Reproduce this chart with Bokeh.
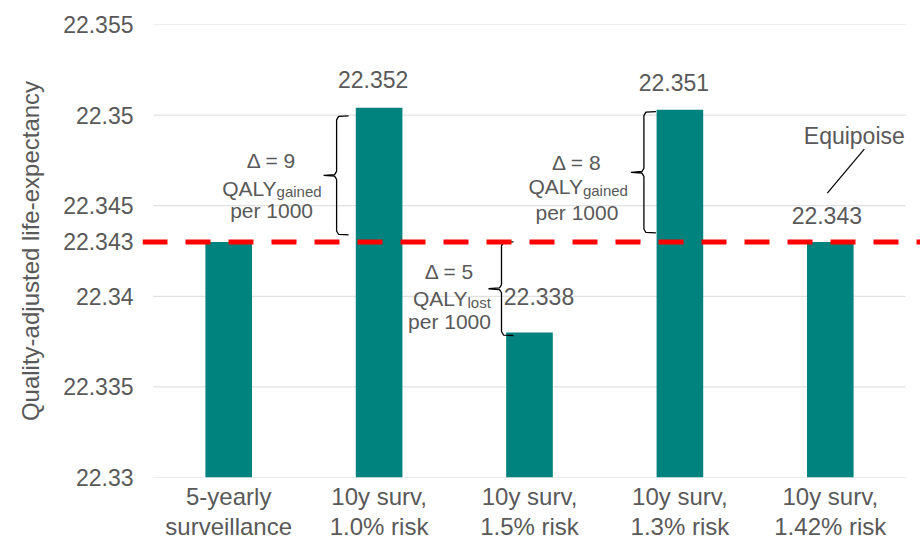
from bokeh.plotting import figure
from bokeh.models import Range1d, FixedTicker, Span
from bokeh.embed import file_html
from bokeh.resources import INLINE
from bokeh.core.properties import value

# ---------------- data ----------------
categories = ["5-yearly\nsurveillance", "10y surv,\n1.0% risk", "10y surv,\n1.5% risk",
              "10y surv,\n1.3% risk", "10y surv,\n1.42% risk"]
qaly = [22.343, 22.3504, 22.338, 22.3503, 22.343]
bar_labels = ["", "22.352", "22.338", "22.351", "22.343"]
equipoise = 22.343
y_ticks = [22.33, 22.335, 22.34, 22.343, 22.345, 22.35, 22.355]
y_tick_labels = ["22.33", "22.335", "22.34", "22.343", "22.345", "22.35", "22.355"]
delta_texts = ["\u0394 = 9", "\u0394 = 5", "\u0394 = 8"]
delta_subs = ["gained", "lost", "gained"]
delta_bars = [1, 2, 3]
y_title = "Quality-adjusted life-expectancy"
equipoise_text = "Equipoise"

# ---------------- layout ----------------
W, H = 920, 542
FL, FT, FB = 142, 24, 64          # frame left / top / bottom border in px
CAT_PX = 150.4                    # px per category
CAT_LEFT = 153                    # px where category 0 starts
frame_w = W - FL
frame_h = H - FT - FB
x0 = -(CAT_LEFT - FL) / CAT_PX
x1 = x0 + frame_w / CAT_PX
ymin, ymax = 22.33, 22.355

def dxp(px):
    return px / CAT_PX

def dyp(px):  # positive px = upwards
    return px * (ymax - ymin) / frame_h

FONT = "Liberation Sans"
GREY = "#595959"
TEAL = "#00827F"

p = figure(width=W, height=H, output_backend="svg", toolbar_location=None,
           x_range=Range1d(x0, x1), y_range=Range1d(ymin, ymax),
           min_border_left=FL, min_border_right=0, min_border_top=FT, min_border_bottom=FB)
p.outline_line_color = None
p.xgrid.visible = False
p.ygrid.visible = False
p.background_fill_color = "white"
p.border_fill_color = "white"

centers = [i + 0.5 for i in range(len(categories))]

# gridlines (drawn over category span only)
grid_y = [t for t in y_ticks if t != equipoise]
p.segment(x0=[0] * len(grid_y), x1=[len(categories)] * len(grid_y), y0=grid_y, y1=grid_y,
          line_color="#D9D9D9", line_width=1)

# bars
p.vbar(x=centers, top=qaly, bottom=ymin, width=0.31, fill_color=TEAL, line_color=None)

# equipoise line
p.add_layout(Span(location=equipoise, dimension="width", line_color="#FF0000",
                  line_width=5, line_dash="25 18"))

# data labels
label_dx = [0, -6, 9.5, -6, -3.5]
label_dy = [0, 28, 36.5, 27.5, 26]
lx, ly, lt = [], [], []
for i, t in enumerate(bar_labels):
    if t:
        lx.append(centers[i] + dxp(label_dx[i]))
        ly.append(qaly[i] + dyp(label_dy[i]))
        lt.append(t)
p.text(x=lx, y=ly, text=lt, text_font=value(FONT), text_font_size="23px",
       text_color=GREY, text_align="center", text_baseline="middle")

# braces + delta annotations
brace_dx = [-42.5, -28, -36]
brace_gaps = [(8, 7), (0, -3), (2, 9)]
text_dx = [-107.5, -80, -103]
line_dy = [(-15, 13, 35), (-17, 10, 33), (-9.5, 14.5, 40.5)]
qaly_anchor = [5, 18, 6]
HOOK, TIP, R = 12, 13, 4

for k, bi in enumerate(delta_bars):
    v = qaly[bi]
    hi, lo = max(v, equipoise), min(v, equipoise)
    top = hi - dyp(brace_gaps[k][0])
    bot = lo + dyp(brace_gaps[k][1])
    mid = (top + bot) / 2
    xv = centers[bi] + dxp(brace_dx[k])
    xs = [xv + dxp(HOOK), xv + dxp(2), xv, xv, xv - dxp(2), xv - dxp(TIP),
          xv - dxp(2), xv, xv, xv + dxp(2), xv + dxp(HOOK)]
    ys = [top, top - dyp(0.5), top - dyp(R), mid + dyp(R), mid + dyp(0.8), mid,
          mid - dyp(0.8), mid - dyp(R), bot + dyp(R), bot + dyp(0.5), bot]
    p.line(xs, ys, line_color="black", line_width=1.3)

    tx = centers[bi] + dxp(text_dx[k])
    l1, l2, l3 = line_dy[k]
    p.text(x=[tx, tx], y=[mid - dyp(l1), mid - dyp(l3)], text=[delta_texts[k], "per 1000"],
           text_font=value(FONT), text_font_size="21px", text_color=GREY,
           text_align="center", text_baseline="middle")
    ax = tx + dxp(qaly_anchor[k])
    p.text(x=[ax], y=[mid - dyp(l2)], text=["QALY"], text_font=value(FONT),
           text_font_size="21px", text_color=GREY, text_align="right",
           text_baseline="middle")
    p.text(x=[ax], y=[mid - dyp(l2 + 3.5)], text=[delta_subs[k]], text_font=value(FONT),
           text_font_size="15px", text_color=GREY, text_align="left",
           text_baseline="middle")

# equipoise callout
c5 = centers[4]
p.text(x=[c5 + dxp(24)], y=[equipoise + dyp(106)], text=[equipoise_text],
       text_font=value(FONT), text_font_size="23px", text_color=GREY,
       text_align="center", text_baseline="middle")
p.line([c5 + dxp(34), c5 + dxp(-3)], [equipoise + dyp(93), equipoise + dyp(49)],
       line_color="black", line_width=1.2)

# axes
p.yaxis.ticker = FixedTicker(ticks=y_ticks)
p.yaxis.major_label_overrides = dict(zip(y_ticks, y_tick_labels))
p.yaxis.axis_line_color = None
p.yaxis.major_tick_line_color = None
p.yaxis.minor_tick_line_color = None
p.yaxis.major_tick_out = 0
p.yaxis.major_tick_in = 0
p.yaxis.major_label_standoff = 9
p.yaxis.major_label_text_font = FONT
p.yaxis.major_label_text_font_size = "23px"
p.yaxis.major_label_text_color = GREY
p.yaxis.axis_label = y_title
p.yaxis.axis_label_text_font = FONT
p.yaxis.axis_label_text_font_size = "24px"
p.yaxis.axis_label_text_font_style = "normal"
p.yaxis.axis_label_text_color = GREY
p.yaxis.axis_label_standoff = 16

p.xaxis.ticker = FixedTicker(ticks=centers)
p.xaxis.major_label_overrides = dict(zip(centers, categories))
p.xaxis.axis_line_color = None
p.xaxis.major_tick_line_color = None
p.xaxis.minor_tick_line_color = None
p.xaxis.major_tick_out = 0
p.xaxis.major_tick_in = 0
p.xaxis.major_label_standoff = 5
p.xaxis.major_label_text_font = FONT
p.xaxis.major_label_text_font_size = "24px"
p.xaxis.major_label_text_color = GREY
p.xaxis.major_label_text_line_height = 1.12

open("out.html", "w").write(file_html(p, INLINE))
